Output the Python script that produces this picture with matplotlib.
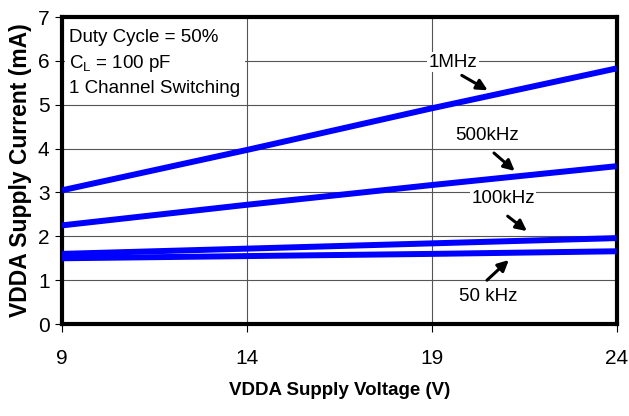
import matplotlib
matplotlib.use("Agg")
import matplotlib.pyplot as plt

plt.rcParams['font.family'] = ['Liberation Sans', 'DejaVu Sans']

# supply voltage (V)
voltage = [9, 14, 19, 24]
# supply current (mA) per switching frequency
i_1mhz = [3.05, 3.97, 4.92, 5.83]
i_500khz = [2.25, 2.72, 3.17, 3.60]
i_100khz = [1.60, 1.72, 1.84, 1.96]
i_50khz = [1.50, 1.55, 1.60, 1.66]

xticks = [9, 14, 19, 24]
yticks = [0, 1, 2, 3, 4, 5, 6, 7]

# curve labels: text, text position, arrow tail, arrow head (data units)
labels = ['1MHz', '500kHz', '100kHz', '50 kHz']
label_pos = [(19.57, 5.97), (20.49, 4.31), (20.92, 2.87), (20.51, 0.62)]
arrow_tail = [(19.81, 5.67), (20.68, 3.90), (21.05, 2.46), (20.49, 1.00)]
arrow_head = [(20.51, 5.33), (21.24, 3.49), (21.57, 2.12), (21.08, 1.46)]

fig = plt.figure(figsize=(6.29, 4.16), dpi=100)
ax = fig.add_axes([0.0986, 0.221, 0.882, 0.738])

blue = '#0000ff'
for ys in (i_1mhz, i_500khz, i_100khz, i_50khz):
    ax.plot(voltage, ys, color=blue, lw=4.3, solid_capstyle='butt', zorder=3)

ax.set_xlim(9, 24)
ax.set_ylim(0, 7)
ax.set_xticks(xticks)
ax.set_yticks(yticks)
ax.grid(True, color='#555555', lw=0.8, zorder=0)
ax.set_axisbelow(True)

for s in ax.spines.values():
    s.set_linewidth(3)
ax.tick_params(axis='x', direction='out', length=6, width=0.8, pad=12, labelsize=15)
ax.tick_params(axis='y', direction='out', length=5, width=0.8, pad=4, labelsize=15)

ax.set_xlabel('VDDA Supply Voltage (V)', fontsize=13.5, fontweight='bold', labelpad=10)
ax.set_ylabel('VDDA Supply Current (mA)', fontsize=16.5, fontweight='bold', labelpad=4)

ax.text(9.2, 6.72, 'Duty Cycle = 50%\n$\\mathregular{C_L}$ = 100 pF\n1 Channel Switching',
        fontsize=13.5, va='top', ha='left', linespacing=1.45,
        bbox=dict(facecolor='white', edgecolor='none', pad=3), zorder=4)

for txt, pos, tail, head in zip(labels, label_pos, arrow_tail, arrow_head):
    ax.text(pos[0], pos[1], txt, fontsize=13.5, ha='center', va='center',
            bbox=dict(facecolor='white', edgecolor='none', pad=1), zorder=5)
    ax.annotate('', xy=head, xytext=tail, zorder=6,
                arrowprops=dict(arrowstyle='-|>', color='black', lw=2.2,
                                mutation_scale=16, shrinkA=0, shrinkB=0))

fig.savefig('out.png', dpi=100)
